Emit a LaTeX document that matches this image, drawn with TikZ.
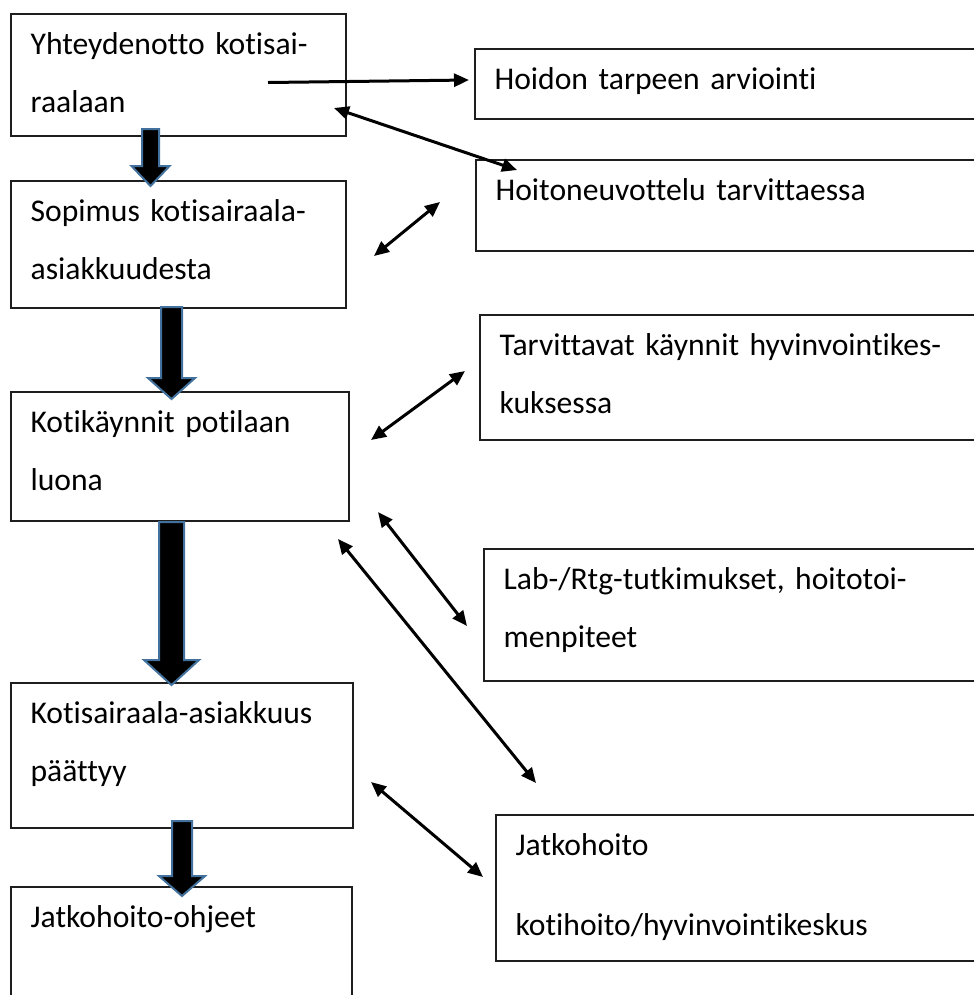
\documentclass[tikz,border=0pt]{standalone}
\usepackage{fontspec}
\setmainfont{Carlito}[Ligatures={NoCommon}]
\usetikzlibrary{arrows.meta,calc,fit}
\definecolor{arrowblue}{RGB}{65,113,156}
\definecolor{boxgray}{RGB}{30,30,30}

\begin{document}
\begin{tikzpicture}[x=0.02cm, y=-0.02cm, >={Triangle[length=0.3cm,width=0.26cm]},
  box/.style={draw=boxgray, line width=0.03cm, inner sep=0pt},
  txt/.style={anchor=base west, inner sep=0pt, text width=10cm, align=left, font=\fontsize{18}{33}\selectfont},
  blockarrow/.style={fill=black, draw=arrowblue, line width=0.04cm},
  link/.style={line width=0.06cm}]
  \clip (0,0) rectangle (974,995);
  % Left column: the course of the home hospital care
  \node[box, fit={(11,14) (346,136)}] (yht) {};
  \node[box, fit={(11,181) (346,308)}] (sop) {};
  \node[box, fit={(11,392) (349,521)}] (koti) {};
  \node[box, fit={(11,683) (353,828)}] (paat) {};
  \node[box, fit={(11,887) (352,1010)}] (ohje) {};
  % Right column (runs off the page)
  \node[box, fit={(475,49) (1000,119)}] (arv) {};
  \node[box, fit={(476,160) (1000,251)}] (neuv) {};
  \node[box, fit={(480,315) (1000,440)}] (kayn) {};
  \node[box, fit={(484,549) (1000,681)}] (lab) {};
  \node[box, fit={(496,815) (1000,961)}] (jatko) {};
  % Texts
  \foreach \n/\t in {yht/{Yhteydenotto kotisai-\\raalaan},
      sop/{Sopimus kotisairaala-\\asiakkuudesta},
      koti/{Kotikäynnit potilaan\\luona},
      paat/{Kotisairaala-asiakkuus\\päättyy},
      ohje/{Jatkohoito-ohjeet},
      arv/{Hoidon tarpeen arviointi},
      neuv/{Hoitoneuvottelu tarvittaessa},
      kayn/{Tarvittavat käynnit hyvinvointikes-\\kuksessa},
      lab/{Lab-/Rtg-tutkimukset, hoitotoi-\\menpiteet},
      jatko/{Jatkohoito\\[12.5pt]kotihoito/hyvinvointikeskus}} {
    \node[txt] (\n-t) at ($(\n.north west)+(20,41)$) {\t};
  }
  % Block arrows down the left column
  \foreach \cx/\sw/\hw/\ytop/\yhb/\ytip in {150.5/17/38/129/166/186,
      171.5/21/47/307/378/399, 171.5/25/55/522/660/685, 182/20/46/821/876/896} {
    \filldraw[blockarrow] ({\cx-\sw/2},\ytop) -- ({\cx+\sw/2},\ytop) -- ({\cx+\sw/2},\yhb)
      -- ({\cx+\hw/2},\yhb) -- (\cx,\ytip) -- ({\cx-\hw/2},\yhb) -- ({\cx-\sw/2},\yhb) -- cycle;
  }
  % Ends of the thin arrows
  \foreach \n/\x/\y in {s1/268/82.5, e1/469/80, s2/334/108, e2/517/170,
      s3/374/256, e3/440/202, s4/371/440, e4/465/371, s5/378/512, e5/467/626,
      s6/338/539, e6/536/783, s7/371/782, e7/483/877}
    \coordinate (\n) at (\x,\y);
  \draw[->, link] (s1) -- (e1);
  \foreach \i in {2,...,7}
    \draw[<->, link] (s\i) -- (e\i);
\end{tikzpicture}
\end{document}
